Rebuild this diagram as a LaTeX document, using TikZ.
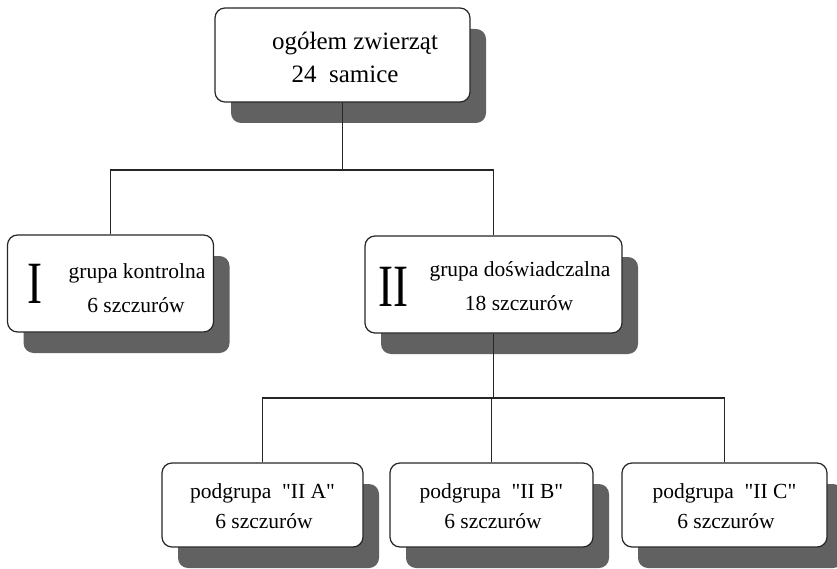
\documentclass[tikz,border=0pt]{standalone}
\usepackage{fontspec}
\newfontfamily\refserif{Liberation Serif}
\usetikzlibrary{shadows}
\begin{document}
\begin{tikzpicture}[x=1pt,y=-1pt,
  boxshape/.style={draw=black!85, line width=1.2pt, rounded corners=10pt, fill=white,
    inner sep=0pt,
    drop shadow={shadow xshift=16pt, shadow yshift=-21pt, fill=black!62, opacity=1}},
  txt/.style={anchor=base, font=\refserif\fontsize{21.5}{26}\selectfont, inner sep=0pt},
  bigtxt/.style={anchor=base, font=\refserif\fontsize{25}{30}\selectfont, inner sep=0pt},
  numtxt/.style={anchor=base, font=\refserif\fontsize{60}{60}\selectfont, inner sep=0pt, xscale=0.75},
  conn/.style={draw=black!85, line width=1.1pt}
]
\useasboundingbox (0,0) rectangle (837,569);
% boxes
\node[boxshape, minimum width=255pt, minimum height=94pt] (top) at (342.5,55) {};
\node[boxshape, minimum width=206pt, minimum height=97pt] (g1) at (110.5,283.5) {};
\node[boxshape, minimum width=257pt, minimum height=97pt] (g2) at (493.5,284.5) {};
\node[boxshape, minimum width=201pt, minimum height=84pt] (sa) at (262.5,505) {};
\node[boxshape, minimum width=203pt, minimum height=84pt] (sb) at (491.5,505) {};
\node[boxshape, minimum width=205pt, minimum height=84pt] (sc) at (724.5,505) {};
% texts
\node[bigtxt] (topl1) at (355,50) {ogółem zwierząt};
\node[bigtxt] (topl2) at (345,83) {24~ samice};
\node[numtxt] (g1num) at (35,303) {I};
\node[txt] (g1l1) at (137,278) {grupa kontrolna};
\node[txt] (g1l2) at (136,312) {6 szczurów};
\node[numtxt] (g2num) at (393,306) {II};
\node[txt] (g2l1) at (520,276) {grupa doświadczalna};
\node[txt] (g2l2) at (519,310) {18 szczurów};
\node[txt] (sal1) at (262.5,498) {podgrupa~ "II A"};
\node[txt] (sal2) at (264,528) {6 szczurów};
\node[txt] (sbl1) at (491.5,498) {podgrupa~ "II B"};
\node[txt] (sbl2) at (493,528) {6 szczurów};
\node[txt] (scl1) at (724.5,498) {podgrupa~ "II C"};
\node[txt] (scl2) at (726,528) {6 szczurów};
% connectors
\coordinate (j1) at (342.5,170);
\coordinate (j2) at (493.5,398);
\draw[conn] (top.south) -- (j1);
\draw[conn] (g1.north) |- (j1) -| (g2.north);
\draw[conn] (g2.south) -- (j2);
\draw[conn] (sa.north) |- (j2) -| (sc.north);
\draw[conn] (sb.north) |- (j2);
\end{tikzpicture}
\end{document}
